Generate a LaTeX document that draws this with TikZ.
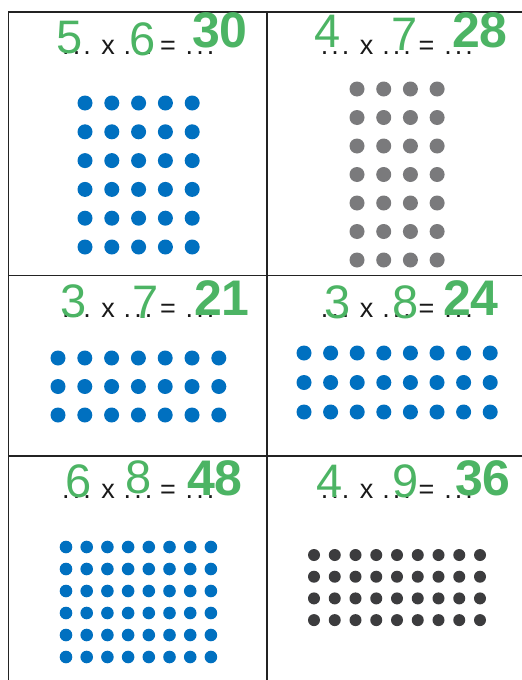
\documentclass[tikz,border=0pt]{standalone}
\usepackage{fontspec}
\setmainfont{Liberation Sans}
\usepackage{xcolor}
\definecolor{answergreen}{RGB}{76,180,100}
\definecolor{dotblue}{RGB}{0,112,192}
\definecolor{dotgray}{RGB}{122,122,124}
\definecolor{dotdark}{RGB}{60,60,62}
\definecolor{gridline}{RGB}{35,35,35}
\newcommand{\blankdots}{.\kern3pt.\kern3pt.}
% dot array: x0, y0, dx, dy, columns, rows, radius, colour
\newcommand{\dotgrid}[8]{%
  \foreach \i in {1,...,#5} \foreach \j in {1,...,#6}
    \fill[#8] ({#1+(\i-1)*#3},{#2+(\j-1)*#4}) circle[radius=#7];}
% printed line "... x ... = ..." : name, cell left, baseline
\newcommand{\blankline}[3]{%
  \node[blank] (#1-a) at (#2+68,#3) {\blankdots};
  \node[blank] (#1-x) at (#2+99.5,#3) {x};
  \node[blank] (#1-b) at (#2+129.5,#3) {\blankdots};
  \node[blank] (#1-eq) at (#2+159.5,#3) {=};
  \node[blank] (#1-c) at (#2+191.5,#3) {\blankdots};}

\begin{document}
\begin{tikzpicture}[x=1pt, y=-1pt,
  grid/.style={draw=gridline, line width=1.9pt},
  blank/.style={anchor=base, inner sep=0pt, text=black!90, font=\fontsize{27}{27}\selectfont},
  factor/.style={anchor=base, inner sep=0pt, text=answergreen, font=\fontsize{47}{47}\selectfont},
  product/.style={anchor=base, inner sep=0pt, text=answergreen, font=\fontsize{50}{50}\selectfont\bfseries}
]
\useasboundingbox (0,0) rectangle (522,680);
\fill[white] (0,0) rectangle (522,680);

% table lines
\coordinate (tl) at (8.5,12);
\coordinate (tr) at (522,12);
\coordinate (bl) at (8.5,680);
\coordinate (mt) at (267,12);
\coordinate (mb) at (267,680);
\coordinate (l1) at (8.5,275.5);
\coordinate (r1) at (522,275.5);
\coordinate (l2) at (8.5,456);
\coordinate (r2) at (522,456);
\draw[grid] (tr) -- (tl) -- (bl);
\draw[grid] (mt) -- (mb);
\draw[grid] (l1) -- (r1);
\draw[grid] (l2) -- (r2);

% dot arrays
\dotgrid{85}{103}{26.8}{28.8}{5}{6}{7.5}{dotblue}
\dotgrid{357}{89}{26.7}{28.5}{4}{7}{7.5}{dotgray}
\dotgrid{58}{358}{26.8}{28.5}{7}{3}{7.5}{dotblue}
\dotgrid{304}{353}{26.6}{29.5}{8}{3}{7.5}{dotblue}
\dotgrid{66}{547}{20.7}{22}{8}{6}{6.3}{dotblue}
\dotgrid{314}{555}{20.75}{21.7}{9}{4}{6}{dotdark}

% printed lines
\blankline{qa}{8.5}{54}
\blankline{qb}{267}{54}
\blankline{qc}{8.5}{317}
\blankline{qd}{267}{317}
\blankline{qe}{8.5}{498}
\blankline{qf}{267}{498}

% written answers
\node[factor] (qa-m) at (70,53) {5};
\node[factor] (qa-n) at (142.5,55) {6};
\node[product] (qa-p) at (220,47) {30};
\node[factor] (qb-m) at (327.5,47) {4};
\node[factor] (qb-n) at (404.5,50) {7};
\node[product] (qb-p) at (480,47) {28};
\node[factor] (qc-m) at (73.5,317) {3};
\node[factor] (qc-n) at (146,318) {7};
\node[product] (qc-p) at (222,315) {21};
\node[factor] (qd-m) at (337.5,318) {3};
\node[factor] (qd-n) at (405.5,318) {8};
\node[product] (qd-p) at (471,315) {24};
\node[factor] (qe-m) at (78.5,497) {6};
\node[factor] (qe-n) at (138.5,493) {8};
\node[product] (qe-p) at (215,495) {48};
\node[factor] (qf-m) at (329.5,497) {4};
\node[factor] (qf-n) at (405.5,497) {9};
\node[product] (qf-p) at (483,495) {36};
\end{tikzpicture}
\end{document}
